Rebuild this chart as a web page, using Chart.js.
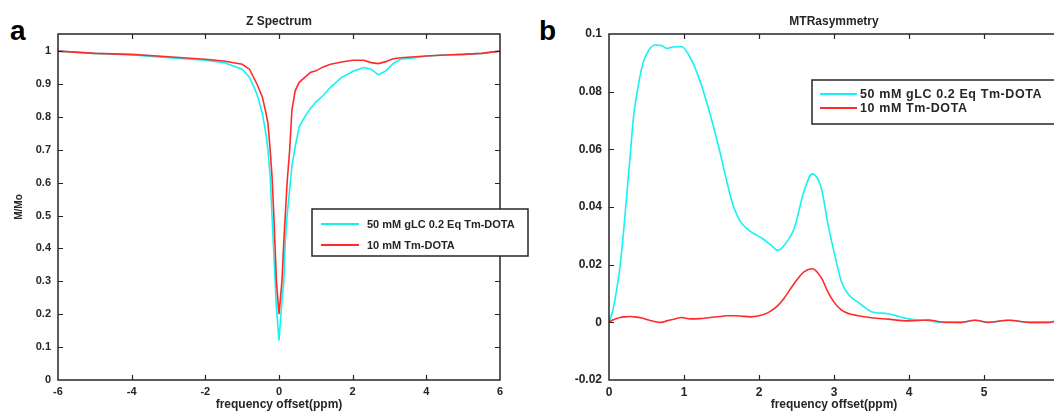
<!DOCTYPE html>
<html>
<head>
<meta charset="utf-8">
<script src="https://cdn.jsdelivr.net/npm/chart.js@4.4.1/dist/chart.umd.min.js"></script>
<style>
    html, body { margin: 0; padding: 0; background: #fff; width: 1054px; height: 414px; overflow: hidden; }
    canvas { position: absolute; top: 0; }
    #chart-z { left: 0; }
    #chart-mtr { left: 530px; }
    .tag { position: absolute; font: bold 28px 'Liberation Sans', Arial, sans-serif; line-height: 28px; color: #000; }
</style>
</head>
<body>
<div class="tag" style="left:10px; top:17px;">a</div>
<div class="tag" style="left:539px; top:17px;">b</div>
<canvas id="chart-z" width="530" height="414"></canvas>
<canvas id="chart-mtr" width="560" height="414"></canvas>
<script>
// Z spectrum: offsets (ppm) and normalised signal M/Mo
const zOffsets = [-6, -5, -4, -3, -2, -1.5, -1, -0.8, -0.6, -0.45, -0.35, -0.3, -0.24, -0.19, -0.14, -0.07, 0,
    0.08, 0.13, 0.17, 0.22, 0.29, 0.35, 0.44, 0.55, 0.7, 0.85, 1.0, 1.2, 1.4, 1.7, 2.0, 2.3, 2.5, 2.7, 2.9,
    3.1, 3.3, 3.7, 4, 4.5, 5, 5.5, 6];
const zGlcTm = [1.0, 0.993, 0.988, 0.98, 0.972, 0.965, 0.945, 0.92, 0.87, 0.81, 0.745, 0.70, 0.62, 0.50, 0.38, 0.22, 0.12,
    0.24, 0.30, 0.42, 0.50, 0.58, 0.65, 0.71, 0.77, 0.80, 0.825, 0.845, 0.865, 0.89, 0.92, 0.938, 0.95, 0.945, 0.928, 0.94,
    0.962, 0.975, 0.98, 0.985, 0.988, 0.99, 0.993, 1.0];
const zTm = [1.0, 0.993, 0.99, 0.983, 0.975, 0.97, 0.96, 0.945, 0.90, 0.86, 0.81, 0.78, 0.70, 0.62, 0.50, 0.30, 0.20,
    0.30, 0.42, 0.50, 0.60, 0.70, 0.82, 0.88, 0.905, 0.92, 0.935, 0.94, 0.952, 0.96, 0.967, 0.972, 0.972, 0.965, 0.962, 0.968,
    0.977, 0.98, 0.983, 0.985, 0.988, 0.99, 0.993, 1.0];
const zXTicks = [-6, -4, -2, 0, 2, 4, 6];
const zYTicks = [0, 0.1, 0.2, 0.3, 0.4, 0.5, 0.6, 0.7, 0.8, 0.9, 1];

// MTR asymmetry vs offset (ppm)
const mtrOffsets = [0, 0.05, 0.1, 0.15, 0.21, 0.28, 0.33, 0.37, 0.44, 0.53, 0.62, 0.7, 0.77, 0.85, 0.97, 1.08, 1.21,
    1.35, 1.48, 1.56, 1.65, 1.75, 1.89, 2.05, 2.15, 2.25, 2.33, 2.47, 2.6, 2.71, 2.83, 2.92, 3.0, 3.1, 3.2, 3.32,
    3.5, 3.72, 3.99, 4.26, 4.44, 4.7, 4.88, 5.05, 5.33, 5.6, 5.87, 6.0];
const mtrGlcTm = [0, 0.004, 0.011, 0.02, 0.036, 0.057, 0.072, 0.079, 0.0886, 0.0944, 0.0962, 0.096, 0.095, 0.0955, 0.0956, 0.092, 0.084,
    0.072, 0.059, 0.050, 0.041, 0.035, 0.0315, 0.029, 0.027, 0.025, 0.0265, 0.0326, 0.0455, 0.0515, 0.0466, 0.034, 0.0245, 0.014, 0.0095, 0.007,
    0.0037, 0.003, 0.0012, 0.0006, 0, 0, 0.0007, 0, 0.0007, 0, 0, 0.0008];
const mtrTm = [0, 0.0008, 0.0013, 0.0017, 0.0019, 0.002, 0.0019, 0.0018, 0.0015, 0.0008, 0.0002, 0.0, 0.0005, 0.001, 0.0017, 0.0012, 0.0013,
    0.0017, 0.002, 0.0023, 0.0023, 0.0022, 0.0019, 0.0026, 0.0038, 0.0058, 0.0082, 0.0135, 0.0175, 0.0186, 0.0155, 0.0105, 0.007, 0.0042, 0.003, 0.0023,
    0.0016, 0.0011, 0.0005, 0.0008, 0.0001, 0, 0.0007, 0, 0.0007, 0, 0, 0.0008];
const mtrXTicks = [0, 1, 2, 3, 4, 5, 6];
const mtrYTicks = [-0.02, 0, 0.02, 0.04, 0.06, 0.08, 0.1];

const seriesNames = ['50 mM gLC 0.2 Eq Tm-DOTA', '10 mM Tm-DOTA'];
const seriesColors = ['#14f2f2', '#ff2b2b'];

const FONT = "'Liberation Sans', Arial, sans-serif";
const INK = '#262626';

function pairs(xs, ys) {
    return xs.map((x, i) => ({ x: x, y: ys[i] }));
}

function fmt(v) {
    return String(+Number(v).toFixed(3));
}

// Box around the axes with inward ticks, a boxed legend and the title
const matlabFrame = {
    id: 'matlabFrame',
    afterDatasetsDraw(chart, args, opts) {
        const ctx = chart.ctx;
        const a = chart.chartArea;
        const xs = chart.scales.x;
        const ys = chart.scales.y;
        ctx.save();
        ctx.strokeStyle = INK;
        ctx.lineWidth = 1.5;
        ctx.strokeRect(a.left, a.top, a.right - a.left, a.bottom - a.top);
        ctx.lineWidth = 1.2;
        ctx.beginPath();
        xs.ticks.forEach(t => {
            const px = Math.round(xs.getPixelForValue(t.value)) + 0.5;
            if (px <= a.left + 1 || px >= a.right - 1) return;
            ctx.moveTo(px, a.bottom); ctx.lineTo(px, a.bottom - 5);
            ctx.moveTo(px, a.top); ctx.lineTo(px, a.top + 5);
        });
        ys.ticks.forEach(t => {
            const py = Math.round(ys.getPixelForValue(t.value)) + 0.5;
            if (py <= a.top + 1 || py >= a.bottom - 1) return;
            ctx.moveTo(a.left, py); ctx.lineTo(a.left + 5, py);
            ctx.moveTo(a.right, py); ctx.lineTo(a.right - 5, py);
        });
        ctx.stroke();

        // title
        ctx.fillStyle = INK;
        ctx.font = 'bold ' + opts.titleSize + 'px ' + FONT;
        ctx.textAlign = 'center';
        ctx.textBaseline = 'alphabetic';
        ctx.fillText(opts.title, (a.left + a.right) / 2, opts.titleY);

        // legend
        const lg = opts.legend;
        ctx.fillStyle = '#fff';
        ctx.fillRect(lg.x, lg.y, lg.w, lg.h);
        ctx.lineWidth = 1.5;
        ctx.strokeStyle = INK;
        ctx.strokeRect(lg.x, lg.y, lg.w, lg.h);
        ctx.font = 'bold ' + lg.size + 'px ' + FONT;
        ctx.letterSpacing = lg.spacing || '0px';
        ctx.textAlign = 'left';
        ctx.textBaseline = 'middle';
        chart.data.datasets.forEach((ds, i) => {
            const ry = lg.y + lg.rows[i];
            ctx.strokeStyle = ds.borderColor;
            ctx.lineWidth = 1.8;
            ctx.beginPath();
            ctx.moveTo(lg.x + lg.lineFrom, ry);
            ctx.lineTo(lg.x + lg.lineTo, ry);
            ctx.stroke();
            ctx.fillStyle = INK;
            ctx.fillText(ds.label, lg.x + lg.textX, ry + 0.5);
        });
        ctx.restore();
    }
};

function makePanel(canvasId, p) {
    const datasets = [p.glc, p.tm].map((ys, i) => ({
        label: seriesNames[i],
        data: pairs(p.offsets, ys),
        borderColor: seriesColors[i],
        borderWidth: 1.6,
        pointRadius: 0,
        fill: false,
        tension: 0,
        cubicInterpolationMode: p.smooth ? 'monotone' : 'default',
        order: i === 0 ? 1 : 0
    }));
    const tickFont = { family: FONT, size: p.tickSize, weight: 'bold' };
    return new Chart(document.getElementById(canvasId), {
        type: 'line',
        data: { datasets: datasets },
        plugins: [matlabFrame],
        options: {
            responsive: false,
            animation: false,
            layout: { padding: { left: 0, right: p.padRight, top: 34, bottom: 0 } },
            plugins: {
                legend: { display: false },
                tooltip: { enabled: false },
                matlabFrame: { title: p.title, titleY: 25, titleSize: 12, legend: p.legend }
            },
            scales: {
                x: {
                    type: 'linear',
                    min: p.xTicks[0],
                    max: p.xTicks[p.xTicks.length - 1],
                    afterBuildTicks: s => { s.ticks = p.xTicks.map(v => ({ value: v })); },
                    afterFit: s => { s.height = 34; },
                    grid: { display: false, drawTicks: false },
                    border: { display: false },
                    ticks: { color: INK, font: tickFont, padding: 5, maxRotation: 0, callback: fmt },
                    title: {
                        display: true,
                        text: 'frequency offset(ppm)',
                        color: INK,
                        font: { family: FONT, size: 12, weight: 'bold' },
                        padding: { top: 0, bottom: 2 }
                    }
                },
                y: {
                    type: 'linear',
                    min: p.yMin,
                    max: p.yMax,
                    afterBuildTicks: s => { s.ticks = p.yTicks.map(v => ({ value: v })); },
                    afterFit: s => { s.width = p.yWidth; },
                    grid: { display: false, drawTicks: false },
                    border: { display: false },
                    ticks: { color: INK, font: tickFont, padding: 7, callback: fmt },
                    title: {
                        display: !!p.yTitle,
                        text: p.yTitle || '',
                        color: INK,
                        font: { family: FONT, size: 10, weight: 'bold' },
                        padding: { top: 13, bottom: 0 }
                    }
                }
            }
        }
    });
}

document.addEventListener('DOMContentLoaded', () => {
    makePanel('chart-z', {
        offsets: zOffsets, glc: zGlcTm, tm: zTm,
        xTicks: zXTicks, yTicks: zYTicks, yMin: 0, yMax: 1.052,
        yWidth: 58, padRight: 30, smooth: false,
        title: 'Z Spectrum', yTitle: 'M/Mo', tickSize: 11,
        legend: { x: 312, y: 209, w: 216, h: 47, rows: [15, 36], lineFrom: 9, lineTo: 47, textX: 55, size: 11 }
    });
    makePanel('chart-mtr', {
        offsets: mtrOffsets, glc: mtrGlcTm, tm: mtrTm,
        xTicks: mtrXTicks, yTicks: mtrYTicks, yMin: -0.02, yMax: 0.1,
        yWidth: 79, padRight: 31, smooth: true,
        title: 'MTRasymmetry', yTitle: '', tickSize: 12,
        legend: { x: 282, y: 80, w: 260, h: 44, rows: [14, 28], lineFrom: 8, lineTo: 45, textX: 48, size: 12.5, spacing: '0.6px' }
    });
});
</script>
</body>
</html>
